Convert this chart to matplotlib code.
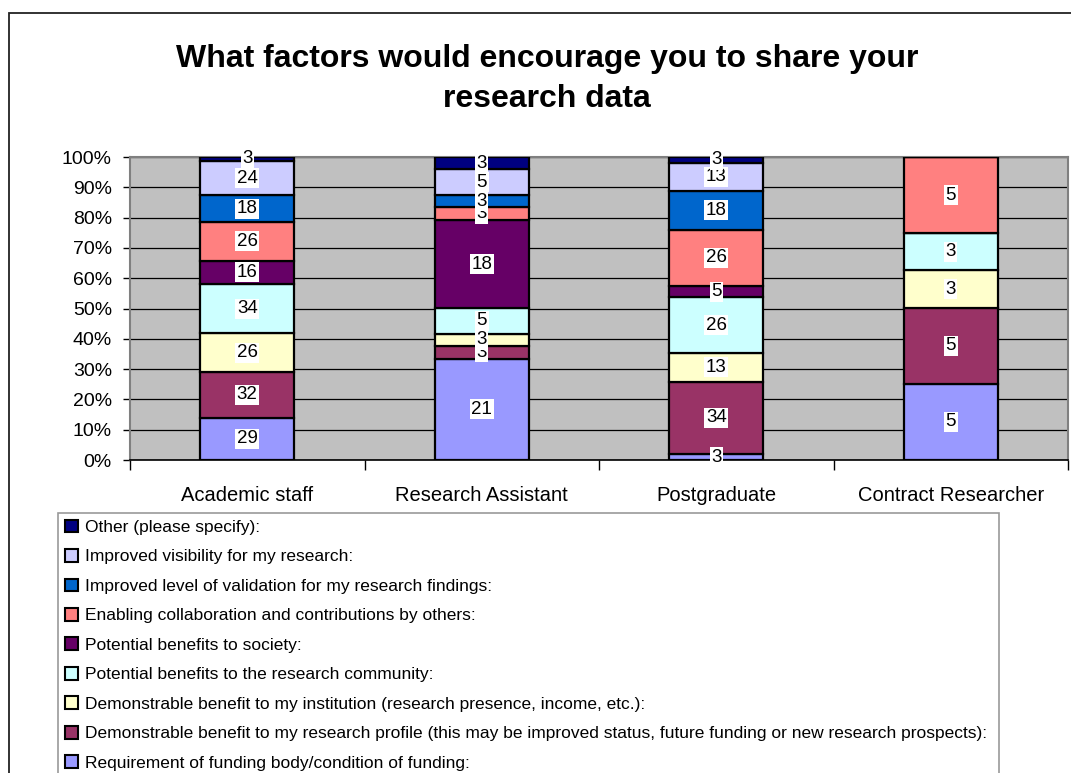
import matplotlib
matplotlib.use("Agg")
import matplotlib.pyplot as plt
from matplotlib.patches import Patch, Rectangle
import numpy as np

plt.rcParams['font.family'] = ['Liberation Sans', 'DejaVu Sans']

# Respondent groups
categories = ["Academic staff", "Research Assistant", "Postgraduate", "Contract Researcher"]

# Share of respondents (%) choosing each factor, per group (bottom of stack first)
funding_requirement = [28.9, 21.1, 2.6, 5.3]
research_profile = [31.6, 2.6, 34.2, 5.3]
institution_benefit = [26.3, 2.6, 13.2, 2.6]
community_benefit = [34.2, 5.3, 26.3, 2.6]
society_benefit = [15.8, 18.4, 5.3, 0.0]
collaboration = [26.3, 2.6, 26.3, 5.3]
validation = [18.4, 2.6, 18.4, 0.0]
visibility = [23.7, 5.3, 13.2, 0.0]
other = [2.6, 2.6, 2.6, 0.0]

series_labels = [
    "Requirement of funding body/condition of funding:",
    "Demonstrable benefit to my research profile (this may be improved status, future funding or new research prospects):",
    "Demonstrable benefit to my institution (research presence, income, etc.):",
    "Potential benefits to the research community:",
    "Potential benefits to society:",
    "Enabling collaboration and contributions by others:",
    "Improved level of validation for my research findings:",
    "Improved visibility for my research:",
    "Other (please specify):",
]
series_values = [funding_requirement, research_profile, institution_benefit,
                 community_benefit, society_benefit, collaboration,
                 validation, visibility, other]
series_colors = ["#9999FF", "#993366", "#FFFFCC", "#CCFFFF", "#660066",
                 "#FF8080", "#0066CC", "#CCCCFF", "#000080"]

W, H = 1071, 773
fig = plt.figure(figsize=(W / 100, H / 100), dpi=100)
fig.patch.set_facecolor("white")

# chart frame
fig.patches.append(Rectangle((9 / W, -0.2), 1.2, 1.2 - 13 / H,
                             transform=fig.transFigure, fill=False,
                             edgecolor="#222222", lw=1.3, clip_on=False))

ax = fig.add_axes([130 / W, 1 - 460 / H, 938 / W, 303 / H])
ax.set_facecolor("#C0C0C0")

data = np.array(series_values, dtype=float)
totals = data.sum(axis=0)
shares = data / totals * 100
x = np.arange(len(categories))
bottom = np.zeros(len(categories))
for vals, raw, col, lab in zip(shares, data, series_colors, series_labels):
    ax.bar(x, vals, bottom=bottom, width=0.4, color=col, edgecolor="black",
           linewidth=1.6, label=lab, zorder=3)
    for xi, v, r, b in zip(x, vals, raw, bottom):
        if r > 0:
            ax.text(xi, b + v / 2, f"{r:.0f}", ha="center", va="center",
                    fontsize=13.5, color="black", zorder=5,
                    bbox=dict(boxstyle="square,pad=0.08", fc="white", ec="none"))
    bottom += vals

ax.set_ylim(0, 100)
ax.set_xlim(-0.5, 3.5)
ax.set_yticks(np.arange(0, 101, 10))
ax.set_yticklabels([f"{v}%" for v in range(0, 101, 10)], fontsize=14)
ax.yaxis.grid(True, color="black", lw=0.9, zorder=1)
ax.set_axisbelow(True)
ax.tick_params(axis="y", length=5, width=1, direction="out", pad=8, color="black")

ax.set_xticks(x)
ax.set_xticklabels(categories, fontsize=14.5)
ax.tick_params(axis="x", which="major", length=0, pad=19)
ax.set_xticks(np.arange(-0.5, 3.6, 1), minor=True)
ax.tick_params(axis="x", which="minor", length=7, width=1, direction="out", color="black")

for s in ["top", "right"]:
    ax.spines[s].set_color("#808080")
    ax.spines[s].set_linewidth(1.5)
ax.spines["left"].set_color("#808080")
ax.spines["left"].set_linewidth(1.5)
ax.spines["bottom"].set_color("black")
ax.spines["bottom"].set_linewidth(1.2)

fig.text(547 / W, 1 - 59 / H, "What factors would encourage you to share your",
         ha="center", va="center", fontsize=23, fontweight="bold")
fig.text(547 / W, 1 - 99 / H, "research data",
         ha="center", va="center", fontsize=23, fontweight="bold")

handles = [Patch(facecolor=c, edgecolor="black", lw=1.5) for c in series_colors]
leg = fig.legend(handles[::-1], series_labels[::-1], loc="upper left",
                 bbox_to_anchor=(58 / W, 1 - 513 / H, (999 - 58) / W, 0.0),
                 mode="expand", fontsize=12.5, frameon=True, fancybox=False,
                 edgecolor="#808080", borderaxespad=0, borderpad=0.38,
                 handlelength=0.75, handleheight=0.75, handletextpad=0.45,
                 labelspacing=0.81)
leg.get_frame().set_linewidth(1.2)

fig.savefig("out.png", dpi=100)
